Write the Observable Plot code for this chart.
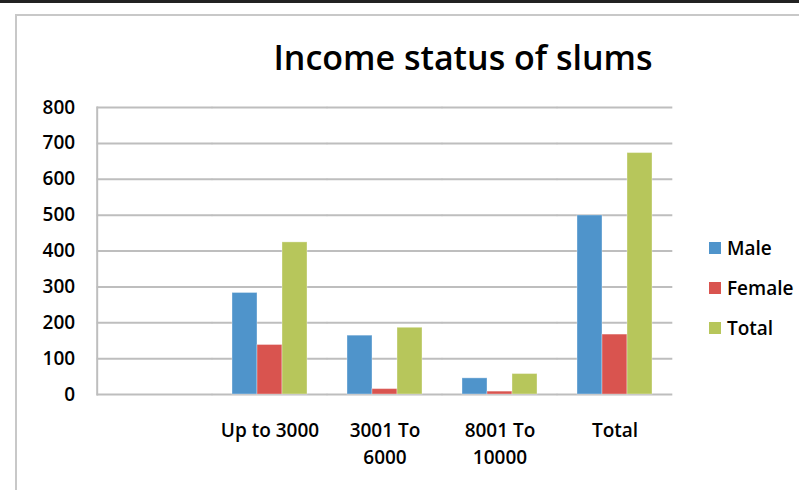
<!DOCTYPE html>
<html><head><meta charset="utf-8">
<script src="https://cdn.jsdelivr.net/npm/d3@7"></script>
<script src="https://cdn.jsdelivr.net/npm/@observablehq/plot@0.6"></script>
<style>
body{margin:0;background:#fff;}
#wrap{position:relative;width:799px;height:490px;overflow:hidden;font-family:"Open Sans",sans-serif;background:#fff;}
#topbar{position:absolute;left:0;top:0;width:799px;height:3px;background:#222;}
#bl{position:absolute;left:15px;top:14px;width:2px;height:476px;background:#c8c8c8;}
#bt{position:absolute;left:15px;top:14px;width:784px;height:2px;background:#c8c8c8;}
#chart{position:absolute;left:0;top:0;}
#title{position:absolute;left:463px;top:40px;transform:translateX(-50%);font-size:34px;font-weight:600;line-height:34px;white-space:nowrap;color:#000;}
#legend{position:absolute;left:709px;top:228px;font-size:19px;font-weight:600;color:#000;}
#legend .row{display:flex;align-items:center;height:40px;}
#legend .sw{width:12px;height:12px;margin-right:6px;}
</style></head><body>
<div id="wrap">
 <div id="topbar"></div>
 <div id="bl"></div><div id="bt"></div>
 <div id="chart"></div>
 <div id="title">Income status of slums</div>
 <div id="legend"></div>
</div>
<script>
const categories = ["", "Up to 3000", "3001 To 6000", "8001 To 10000", "Total"];
const categoryLabels = ["", "Up to 3000", "3001 To\n6000", "8001 To\n10000", "Total"];
const seriesNames = ["Male", "Female", "Total"];
const maleValues = [null, 283, 164, 45, 499];
const femaleValues = [null, 138, 15, 8, 167];
const totalValues = [null, 424, 186, 57, 673];
const seriesColors = ["#4F94CB", "#D9544F", "#B7C65B"];
const yTicks = [0, 100, 200, 300, 400, 500, 600, 700, 800];

const seriesValues = [maleValues, femaleValues, totalValues];
const data = [];
categories.forEach((c, i) => {
  seriesNames.forEach((s, j) => {
    data.push({category: c, series: s, value: seriesValues[j][i]});
  });
});

const W = 700, H = 490, ML = 95, MR = 27, MT = 107, MB = 96;
const padInner = 0.334;
const step = (W - ML - MR) / categories.length;
const half = step * padInner / 2; // half gap between category groups

const chart = Plot.plot({
  width: W, height: H,
  marginLeft: ML, marginRight: MR, marginTop: MT, marginBottom: MB,
  style: {background: "transparent", fontFamily: "Open Sans", fontSize: "19px", fontWeight: 600, color: "#000"},
  fx: {domain: categories, paddingInner: padInner, paddingOuter: padInner / 2, label: null},
  x: {domain: seriesNames, padding: 0, axis: null},
  y: {domain: [0, 800], axis: null, label: null},
  color: {domain: seriesNames, range: seriesColors},
  marks: [
    Plot.ruleY(yTicks, {stroke: "#BEBEBE", strokeOpacity: 1, strokeWidth: 2, insetLeft: -half, insetRight: -half}),
    Plot.barY(data, {fx: "category", x: "series", y: "value", fill: "series", stroke: "#ffffff", strokeOpacity: 0.35, strokeWidth: 1}),
    Plot.axisY({ticks: yTicks, tickSize: 0, tickPadding: 22, dx: -half, label: null, tickFormat: d => String(d)}),
    Plot.frame({anchor: "left", facetAnchor: "left", dx: -half, stroke: "#BEBEBE", strokeOpacity: 1, strokeWidth: 2}),
    Plot.axisFx({anchor: "bottom", tickSize: 0, tickPadding: 24, lineHeight: 1.4, label: null,
      tickFormat: d => categoryLabels[categories.indexOf(d)]})
  ]
});
document.getElementById("chart").appendChild(chart);

const legend = document.getElementById("legend");
seriesNames.forEach((s, j) => {
  const row = document.createElement("div");
  row.className = "row";
  const sw = document.createElement("div");
  sw.className = "sw";
  sw.style.background = seriesColors[j];
  const t = document.createElement("span");
  t.textContent = s;
  row.appendChild(sw); row.appendChild(t);
  legend.appendChild(row);
});
</script>
</body></html>
